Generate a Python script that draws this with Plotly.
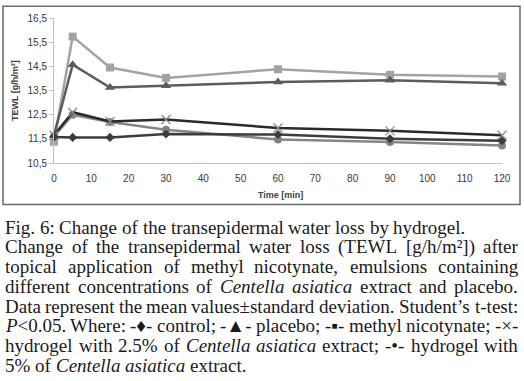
import re
import plotly.graph_objects as go

# ---------------- data ----------------
time_min = [0, 5, 15, 30, 60, 90, 120]
control = [11.58, 11.56, 11.56, 11.70, 11.68, 11.50, 11.42]
placebo = [11.65, 14.57, 13.62, 13.70, 13.85, 13.92, 13.80]
methyl_nicotynate = [11.38, 15.73, 14.45, 14.02, 14.38, 14.15, 14.08]
hydrogel_2_5 = [11.65, 12.60, 12.22, 12.30, 11.95, 11.83, 11.65]
hydrogel_5 = [11.60, 12.50, 12.20, 11.88, 11.47, 11.37, 11.22]

y_tick_vals = [10.5, 11.5, 12.5, 13.5, 14.5, 15.5, 16.5]
y_tick_text = ["10,5", "11,5", "12,5", "13,5", "14,5", "15,5", "16,5"]
x_tick_vals = [0, 10, 20, 30, 40, 50, 60, 70, 80, 90, 100, 110, 120]

caption_lines = [
    ("Fig. 6: Change of the transepidermal water loss by hydrogel.", False),
    ("Change of the transepidermal water loss (TEWL [g/h/m²]) after", True),
    ("topical application of methyl nicotynate, emulsions containing", True),
    ("different concentrations of <i>Centella</i> <i>asiatica</i> extract and placebo.", True),
    ("Data represent the mean values±standard deviation. Student’s t-test:", True),
    ("<i>P</i>&lt;0.05. Where: -♦- control; -▲- placebo; -▪- methyl nicotynate; -×-", True),
    ("hydrogel with 2.5% of <i>Centella</i> <i>asiatica</i> extract; -•- hydrogel with", True),
    ("5% of <i>Centella</i> <i>asiatica</i> extract.", False),
]

# ---------------- layout geometry (pixels) ----------------
W, H = 524, 381
ML, MR, MT, MB = 54, 22, 16, 218
PW = W - ML - MR
PH = H - MT - MB


def px_x(px):
    return (px - ML) / PW


def px_y(py):
    return (H - MB - py) / PH


# Times / Liberation Serif advance widths (per 1000 em)
TW = dict(zip("abcdefghijklmnopqrstuvwxyz",
              [444, 500, 444, 500, 444, 333, 500, 500, 278, 278, 500, 278, 778,
               500, 500, 500, 500, 333, 389, 278, 500, 500, 722, 500, 500, 444]))
TW.update(dict(zip("ABCDEFGHIJKLMNOPQRSTUVWXYZ",
                   [722, 667, 667, 722, 611, 556, 722, 722, 333, 389, 722, 611, 889,
                    722, 722, 556, 722, 667, 556, 611, 722, 722, 944, 722, 722, 611])))
TW.update({d: 500 for d in "0123456789"})
TW.update({" ": 250, ".": 250, ",": 250, ":": 278, ";": 278, "(": 333, ")": 333,
           "[": 333, "]": 333, "/": 278, "-": 333, "%": 833, "±": 564, "<": 564,
           "’": 333, "×": 564, "²": 300, "•": 350, "♦": 560, "▲": 990, "▪": 400})
TW_IT = {"a": 500, "P": 611}


def word_width(html, size):
    total = 0
    italic = False
    for part in re.split(r"(<[^>]+>)", html):
        if part == "<i>":
            italic = True
            continue
        if part == "</i>":
            italic = False
            continue
        part = part.replace("&lt;", "<")
        for ch in part:
            w = TW.get(ch, 500)
            if italic and ch in TW_IT:
                w = TW_IT[ch]
            total += w
    return total * size / 1000.0


# ---------------- traces ----------------
fig = go.Figure()

series = [
    ("methyl nicotynate", methyl_nicotynate, "#a3a3a3", dict(symbol="square", size=8, color="#a3a3a3")),
    ("placebo", placebo, "#5c5c5c", dict(symbol="triangle-up", size=9, color="#5c5c5c")),
    ("hydrogel 5%", hydrogel_5, "#858585", dict(symbol="circle", size=8, color="#858585")),
    ("hydrogel 2.5%", hydrogel_2_5, "#2a2a2a",
     dict(symbol="x-thin", size=9, color="#8a8a8a", line=dict(color="#8a8a8a", width=1.3))),
    ("control", control, "#3c3c3c", dict(symbol="diamond", size=7, color="#3c3c3c")),
]
for name, vals, col, mk in series:
    fig.add_trace(go.Scatter(
        x=time_min, y=vals, mode="lines+markers", name=name,
        line=dict(color=col, width=2.5), marker=mk, cliponaxis=False,
    ))

# ---------------- annotations ----------------
annotations = []
cap_font = dict(family="Liberation Serif", size=19, color="#1a1a1a")
left_px, right_px = 5, 518
line_center = 228
line_step = 20
for i, (text, justify) in enumerate(caption_lines):
    words = text.split(" ")
    widths = [word_width(w, cap_font["size"]) for w in words]
    if justify and len(words) > 1:
        gap = (right_px - left_px - sum(widths)) / (len(words) - 1)
    else:
        gap = 250 * cap_font["size"] / 1000.0
    cy = line_center + i * line_step
    xcur = left_px
    for w, wd in zip(words, widths):
        annotations.append(dict(
            x=px_x(xcur), y=px_y(cy), xref="paper", yref="paper",
            xanchor="left", yanchor="middle", text=w, showarrow=False,
            font=cap_font, borderpad=0, borderwidth=0,
        ))
        xcur += wd + gap

annotations.append(dict(
    x=px_x(15), y=px_y(90), xref="paper", yref="paper", text="<b>TEWL [g/h/m²]</b>",
    textangle=-90, showarrow=False, xanchor="center", yanchor="middle",
    font=dict(family="Liberation Sans", size=9, color="#404040"),
))
annotations.append(dict(
    x=px_x(280), y=px_y(195), xref="paper", yref="paper", text="<b>Time [min]</b>",
    showarrow=False, xanchor="center", yanchor="middle",
    font=dict(family="Liberation Sans", size=9, color="#404040"),
))

fig.update_layout(
    width=W, height=H,
    margin=dict(l=ML, r=MR, t=MT, b=MB, pad=0),
    paper_bgcolor="white", plot_bgcolor="white",
    showlegend=False,
    annotations=annotations,
    shapes=[dict(
        type="rect", xref="paper", yref="paper",
        x0=px_x(3), x1=px_x(520), y0=px_y(205), y1=px_y(4),
        line=dict(color="#6a6a6a", width=1.5), fillcolor="rgba(0,0,0,0)", layer="below",
    )],
    xaxis=dict(
        range=[0, 120], tickvals=x_tick_vals, showgrid=False, zeroline=False,
        showline=True, linecolor="#c0c0c0", linewidth=1,
        ticks="outside", ticklen=6, tickcolor="rgba(0,0,0,0)",
        tickfont=dict(family="Liberation Sans", size=10, color="#383838"),
    ),
    yaxis=dict(
        range=[10.5, 16.5], tickvals=y_tick_vals, ticktext=y_tick_text,
        showgrid=False, zeroline=False,
        showline=True, linecolor="#c0c0c0", linewidth=1,
        ticks="outside", ticklen=4, tickcolor="#c0c0c0",
        tickfont=dict(family="Liberation Sans", size=10, color="#383838"),
    ),
)

fig.write_html(
    "out.html",
    config={"displayModeBar": False},
    post_script="document.body.style.margin='0px';document.body.style.padding='0px';",
)
